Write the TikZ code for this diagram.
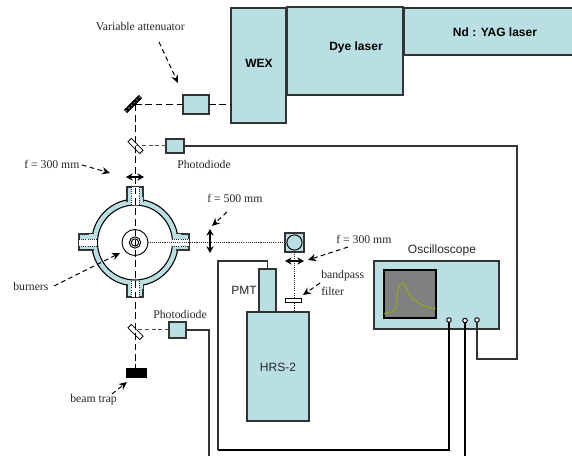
\documentclass[tikz,border=0pt]{standalone}
\usepackage{fontspec}
\setmainfont{Liberation Serif}
\newfontfamily\arialf{Liberation Sans}
\usetikzlibrary{arrows.meta}
\definecolor{teal1}{HTML}{BADFE3}
\definecolor{edge1}{HTML}{333333}
\definecolor{trace1}{HTML}{9BAE0A}
\newcommand{\bx}[5]{\node[box,minimum width={(#4-#2)*.75pt},minimum height={(#5-#3)*.75pt}] (#1) at ({(#2+#4)/2},{(#3+#5)/2}) {};}
\tikzset{
  box/.style={draw=edge1,fill=teal1,line width=.8pt,inner sep=0pt,outer sep=0pt,rectangle},
  serif/.style={font=\fontsize{8.8}{10}\selectfont,text=black!85,inner sep=0pt},
  sans/.style={font=\fontsize{9}{10}\selectfont\arialf,text=black!85,inner sep=0pt},
  bold/.style={font=\fontsize{9}{10}\selectfont\arialf\bfseries,text=black,inner sep=0pt},
  beam/.style={line width=.75pt,dash pattern=on 5pt off 2.8pt},
  beamb/.style={line width=.75pt,draw=black!70,dash pattern=on 3pt off 2pt},
  dots/.style={line width=.6pt,dash pattern=on .8pt off .8pt,draw=black!85},
  wire/.style={line width=1pt,draw=edge1},
  wireb/.style={line width=.8pt,draw=black},
  pointer/.style={line width=.75pt,dash pattern=on 3.5pt off 2.5pt,-{Stealth[length=6pt,width=5.5pt]}},
  lens/.style={line width=.8pt,{Stealth[length=5pt,width=5.5pt]}-{Stealth[length=5pt,width=5.5pt]}},
  split/.style={draw=black,fill=white,line width=.6pt,minimum width=12.5pt,minimum height=3.6pt,inner sep=0pt,outer sep=0pt,rotate=-45},
  term/.style={circle,draw=black,fill=white,line width=.7pt,minimum size=3.4pt,inner sep=0pt,outer sep=0pt},
  chan/.style={fill=white,draw=none}
}
\begin{document}
\begin{tikzpicture}[x=.75pt,y=-.75pt]
\path[use as bounding box] (0,0) rectangle (572,456);
% lasers
\bx{nd}{404}{8}{580}{55}
\bx{dye}{287}{7}{403}{95}
\bx{wex}{231}{8}{286}{123}
\node[bold] (ndt) at (495,32) {Nd : YAG laser};
\node[bold] (dyet) at (356,47) {Dye laser};
\node[bold] (wext) at (259,63) {WEX};
% optics on the beam
\bx{att}{183}{95}{209}{114}
\bx{pda}{166}{139}{184}{153}
\bx{pdb}{169}{322}{186}{338}
\node[draw=black,fill=black,minimum width=15.5pt,minimum height=3pt,inner sep=0pt,outer sep=0pt,rotate=45] (mirror) at (133,104) {};
\draw[teal1!55!black,line width=1.2pt,dash pattern=on .9pt off 2pt] (mirror.west) -- (mirror.east);
\node[split] (bsa) at (135.5,146) {};
\node[split] (bsb) at (135.5,332) {};
\node[fill=black,minimum width=15.75pt,minimum height=7.5pt,inner sep=0pt,outer sep=0pt] (trap) at (136.5,373) {};
\coordinate (turn) at (135,104.5);
% burner housing
\coordinate (ctr) at (135,242.5);
\fill[teal1,draw=black,line width=.8pt] (ctr) circle[radius=43.3];
\fill[white,draw=black,line width=.8pt] (ctr) circle[radius=37.5];
\bx{tabt}{127}{187}{143}{201}
\bx{tabb}{127}{285}{143}{297}
\bx{tabl}{79}{234}{93}{250}
\bx{tabr}{177}{234}{189}{250}
\fill[teal1] (127.5,197) rectangle (142.5,204);
\fill[teal1] (127.5,281) rectangle (142.5,289);
\fill[teal1] (89,234.5) rectangle (96,249.5);
\fill[teal1] (174,234.5) rectangle (181,249.5);
\fill[chan] (131,187) rectangle (139,205);
\fill[chan] (131,281) rectangle (139,297);
\fill[chan] (79,239) rectangle (97,246);
\fill[chan] (172,239) rectangle (189,246);
\draw[dots] (131,187) -- (131,205) (139,187) -- (139,205);
\draw[dots] (131,281) -- (131,297) (139,281) -- (139,297);
\draw[dots] (79,239) -- (97,239) (79,246) -- (97,246);
\draw[dots] (172,239) -- (189,239) (172,246) -- (189,246);
\node[circle,draw=black,fill=white,line width=.7pt,minimum size=19.5pt,inner sep=0pt,outer sep=0pt] (burner) at (ctr) {};
\node[circle,draw=black,line width=.7pt,minimum size=8.5pt,inner sep=0pt,outer sep=0pt] (burnerm) at (ctr) {};
\node[circle,draw=black,line width=.7pt,minimum size=5.5pt,inner sep=0pt,outer sep=0pt] (burneri) at (ctr) {};
% collection optics
\bx{fold}{285}{233}{304}{252}
\node[circle,draw=black,fill=teal1,line width=.7pt,minimum size=11.4pt,inner sep=0pt,outer sep=0pt] (foldc) at (fold.center) {};
\bx{hrs}{247}{312}{309}{421}
\bx{pmt}{259}{269}{276}{312}
\coordinate (slit) at (294.5,312);
% oscilloscope
\bx{osc}{374}{261}{499}{329}
\node[draw=black,fill=black!50,line width=.8pt,minimum width=39pt,minimum height=36pt,inner sep=0pt,outer sep=0pt] (screen) at (410,294) {};
\draw[trace1,line width=.7pt,line join=round] plot[smooth,tension=.55] coordinates {(384,313.7) (392,311.5) (395.7,307.3) (397.7,291.7) (400,284) (403.3,283.3) (406.7,288.3) (410.7,296.7) (418.3,302.7) (426.7,307) (436,308.3)};
\node[term] (ta) at (449,320) {};
\node[term] (tb) at (465,320.5) {};
\node[term] (tc) at (477,320) {};
% beams
\draw[beam] (turn) -- (att.west);
\draw[beam] (att.east) -- (att.east -| wex.west);
\draw[beam] (turn) -- (trap.north -| turn);
\draw[beamb] (pda.west) -- (pda.west -| bsa.center);
\draw[beamb] (pdb.west) -- (pdb.west -| bsb.center);
\draw[dots] (fold.west) -- (fold.west -| burner.east);
\draw[dots] (fold.south) -- (slit);
\node[draw=black,fill=white,line width=.6pt,minimum width=12pt,minimum height=3.6pt,inner sep=0pt,outer sep=0pt] (filter) at (293,300.5) {};
% wires
\coordinate (wirea) at (517,146);
\coordinate (wireb) at (517,359);
\coordinate (wirec) at (477,359);
\draw[wire] (pda.east) -- (wirea) -- (wireb) -- (wirec) -- (tc.south);
\coordinate (wired) at (209,330);
\coordinate (wiree) at (209,456);
\draw[wire] (pdb.east) -- (wired) -- (wiree);
\coordinate (wiref) at (267.5,261);
\coordinate (wireg) at (218,261);
\coordinate (wireh) at (218,450);
\coordinate (wirei) at (449,450);
\draw[wire] (pmt.north) -- (wiref) -- (wireg) -- (wireh);
\draw[wireb] (wireh) -- (wirei) -- (ta.south);
\coordinate (wirej) at (465,456);
\draw[wireb] (tb.south) -- (wirej);
% lenses
\coordinate (la) at (126,177); \coordinate (lb) at (144,177);
\draw[lens] (la) -- (lb);
\coordinate (lc) at (210,229); \coordinate (ld) at (210,253);
\draw[lens] (lc) -- (ld);
\coordinate (le) at (285,261); \coordinate (lf) at (304,261);
\draw[lens] (le) -- (lf);
% labels
\node[serif,anchor=east] (tvar) at (185,27) {Variable attenuator};
\node[serif,anchor=west] (tpda) at (177,164) {Photodiode};
\node[serif,anchor=west] (tpdb) at (153,314) {Photodiode};
\node[serif,anchor=west] (tfl) at (24,164) {f = 300 mm};
\node[serif,anchor=west] (tfm) at (207,198) {f = 500 mm};
\node[serif,anchor=west] (tfr) at (336,239) {f = 300 mm};
\node[serif,anchor=west] (tbu) at (13,286) {burners};
\node[serif,anchor=west] (tbp) at (321,276) {bandpass};
\node[serif,anchor=west] (tfi) at (321,291) {filter};
\node[serif,anchor=west] (ttr) at (70,400) {beam trap};
\node[sans,anchor=east] (tpmt) at (257,290) {PMT};
\node[sans] (thrs) at (278,367) {HRS-2};
\node[sans] (tosc) at (442,250) {Oscilloscope};
% pointers
\coordinate (pa) at (159,42); \coordinate (pb) at (178,83);
\draw[pointer] (pa) -- (pb);
\coordinate (pc) at (82,165); \coordinate (pd) at (110,173);
\draw[pointer] (pc) -- (pd);
\coordinate (pe) at (54,286); \coordinate (pf) at (120,253);
\draw[pointer] (pe) -- (pf);
\coordinate (pg) at (227,212); \coordinate (ph) at (212,226);
\draw[pointer] (pg) -- (ph);
\coordinate (pi) at (348,247); \coordinate (pj) at (308,260);
\draw[pointer] (pi) -- (pj);
\coordinate (pk) at (320,283); \coordinate (pl) at (303,295);
\draw[pointer] (pk) -- (pl);
\coordinate (pm) at (112,394); \coordinate (pn) at (127,382);
\draw[pointer] (pm) -- (pn);
\end{tikzpicture}
\end{document}
